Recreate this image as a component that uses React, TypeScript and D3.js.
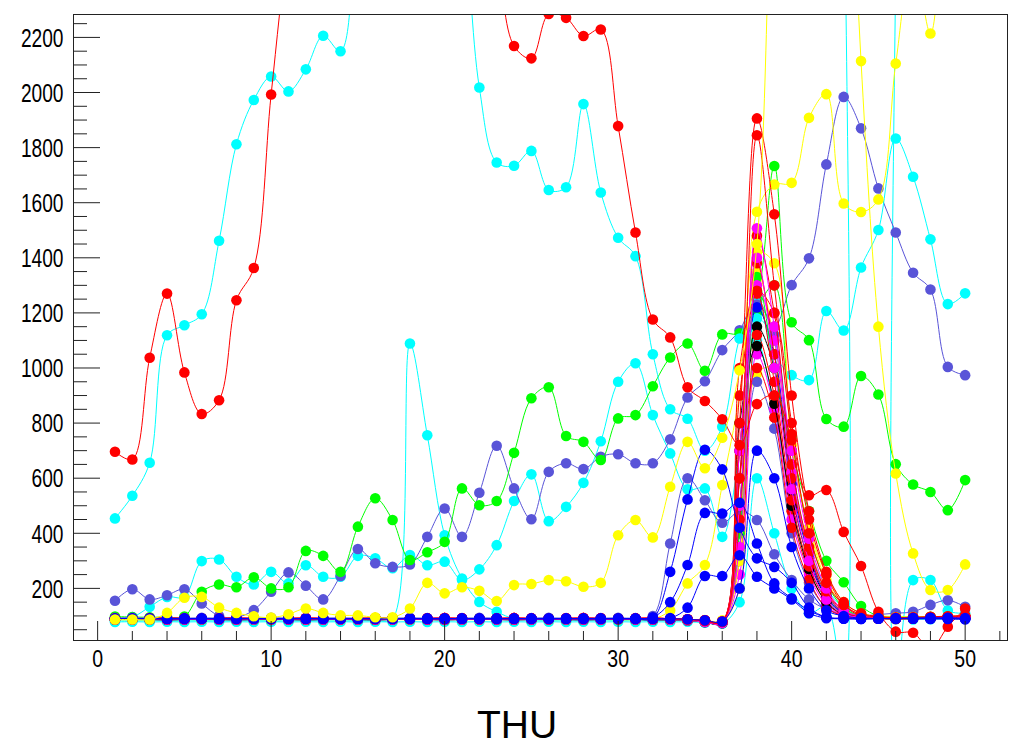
import React from 'react';
import * as d3 from 'd3';

const CYAN = '#00ffff';
const RED = '#ff0000';
const GREEN = '#00ff00';
const YELLOW = '#ffff00';
const BLUE = '#0000ff';
const MAG = '#ff00ff';
const BLACK = '#000000';
const SLATE = '#5954d8';

const xs = [1,2,3,4,5,6,7,8,9,10,11,12,13,14,15,16,17,18,19,20,21,22,23,24,25,26,27,28,29,30,31,32,33,34,35,36,37,38,39,40,41,42,43,44,45,46,47,48,49,50];

const xMajor = [0, 10, 20, 30, 40, 50];
const yMajor = [200, 400, 600, 800, 1000, 1200, 1400, 1600, 1800, 2000, 2200];
const title = 'THU';

const cyanV = [78,79,78,79,78,79,78,79,78,79, 78,79,78,79,78,79,78,79,78,79, 78,79,78,79,78,79,78,79,78,79, 78,79,78,79,75,72,150,600,400,200, 110,133,-150,9000,9000,-150,230,230,120,110];
const cyanC = [82,82,83,82,82,83,82,82,83,82, 82,83,82,82,83,84,90,1089,756,393, 236,151,115,90,85,84,85,84,85,84, 85,84,85,84,80,78,350,1100,850,500, 280,160,110,95,90,88,87,88,90,92];
const cyanD = [93,96,133,169,169,299,305,242,214,260, 218,284,242,242,318,309,273,321,284,297, 230,269,357,517,614,444,496,583,734,950, 1017,829,690,560,563,387,700,1240,1000,600, 350,200,130,100,95,92,90,92,95,98];
const slateD = [155,197,160,175,197,145,100,95,121,188, 258,210,160,245,343,291,278,287,387,490, 387,547,718,563,451,623,654,633,678,687, 654,654,741,893,952,1065,1137,1250,1150,1301, 1398,1739,1984,1870,1652,1492,1346,1285,1004,974];
const greenC = [98,96,95,96,98,188,214,204,240,200, 204,336,318,260,424,527,448,303,331,369, 563,502,517,692,890,930,753,732,666,817, 829,934,1038,1089,990,1122,1126,1250,1733,1166, 1101,815,787,971,904,651,577,550,484,593];
const cyanB = [454,536,656,1119,1155,1195,1462,1812,1973,2058, 2004,2084,2206,2150,2700,3000,3200,3300,3200,3000, 2700,2018,1746,1734,1788,1646,1656,1958,1637,1473, 1406,1050,850,816,700,787,1107,1240,1050,974, 956,1207,1136,1365,1501,1833,1694,1467,1232,1271];
const yellowE = [86,86,87,86,87,86,87,86,87,86, 87,86,87,86,87,86,87,86,87,86, 87,86,87,86,87,86,87,86,87,86, 86,87,86,87,85,84,500,1567,1666,1672, 1908,1994,1597,1566,1612,2105,2500,2214,2800,3000];
const yellowH = [89,89,88,89,89,88,89,89,88,89, 89,88,89,89,88,89,89,88,89,89, 88,89,89,88,89,89,88,89,89,88, 89,89,120,218,285,575,900,1350,1100,700, 420,250,150,110,100,98,96,95,96,97];
const slateS2 = [92,93,92,91,92,93,92,91,92,93, 92,91,92,93,92,91,92,93,92,91, 92,93,92,91,92,93,92,91,92,93, 92,100,363,600,520,438,480,448,324,230, 160,125,105,100,105,110,115,140,157,133];
const redA = [696,668,1037,1270,984,833,883,1246,1363,1993, 2550,2900,3100,3200,3300,3350,3300,3200,3100,3000, 2900,2750,2500,2169,2124,2285,2271,2205,2229,1878, 1492,1176,1111,930,880,814,720,869,900,738, 538,557,405,281,115,43,39,-20,61,127];
const blue1 = [90,90,91,90,90,91,90,90,91,90, 90,91,90,90,91,90,90,91,90,90, 91,90,90,91,90,90,91,90,90,91, 90,92,260,523,703,632,420,309,278,220, 130,95,90,89,90,91,90,89,90,88];
const blue2 = [91,91,90,91,91,90,91,91,90,91, 91,90,91,91,90,91,91,90,91,91, 90,91,91,90,91,91,90,91,91,90, 91,95,150,285,474,472,511,363,218,164, 120,95,92,90,91,90,92,93,92,90];
const blue3 = [89,90,90,89,90,90,89,90,90,89, 90,90,89,90,90,89,90,90,89,90, 90,89,90,90,89,90,90,89,90,90, 89,90,92,130,245,245,320,242,200,160, 110,92,90,89,90,91,92,90,89,88];
const blueF = [90,89,90,90,89,90,90,89,90,90, 89,90,90,89,90,90,89,90,90,89, 90,90,89,90,90,89,90,90,89,90, 90,89,90,88,84,80,200,700,600,350, 200,120,100,92,91,90,91,92,93,92];
const yellowG = [87,87,87,111,166,169,130,111,99,94, 106,127,111,102,102,95,95,127,220,182, 204,191,154,212,216,230,226,206,220,393, 448,385,569,732,636,747,992,1450,3200,4500, 5000,4600,3500,2114,1150,617,327,194,194,287];

// spike bundle
const sp01 = [89,90,89,88,89,90,89,88,89,90, 89,88,89,90,89,88,89,90,89,88, 89,90,89,88,89,90,89,88,89,90, 89,88,89,87,82,78, 600,1845,1300,760,400,220,140, 105,96,92,94,96,98,100];
const sp02 = [91,90,91,92,91,90,91,92,91,90, 91,92,91,90,91,92,91,90,91,92, 91,90,91,92,91,90,91,92,91,90, 91,92,90,88,84,80, 800,1906,1558,900,480,260,150, 110,98,94,95,97,99,102];
const sp03 = [87,88,87,86,87,88,87,86,87,88, 87,86,87,88,87,86,87,88,87,86, 87,88,87,86,87,88,87,86,87,88, 87,86,86,84,78,74, 500,1507,1150,700,380,200,120, 100,95,93,94,95,96,97];
const sp04 = [88,88,89,88,88,89,88,88,89,88, 88,89,88,88,89,88,88,89,88,88, 89,88,88,89,88,88,89,88,88,89, 88,88,89,86,80,76, 450,1480,1200,650,350,190,120, 98,94,92,93,94,95,96];
const sp05 = [89,90,89,88,89,90,89,88,89,90, 89,88,89,90,89,88,89,90,89,88, 89,90,89,88,89,90,89,88,89,90, 89,88,89,87,82,78, 300,1420,1380,720,420,230,140, 105,97,95,96,97,98,99];
const sp06 = [91,90,91,92,91,90,91,92,91,90, 91,92,91,90,91,92,91,90,91,92, 91,90,91,92,91,90,91,92,91,90, 91,92,90,88,84,80, 700,1380,1050,600,330,180,115, 96,92,90,91,92,93,94];
const sp07 = [87,88,87,86,87,88,87,86,87,88, 87,86,87,88,87,86,87,88,87,86, 87,88,87,86,87,88,87,86,87,88, 87,86,86,84,78,74, 400,1330,1000,700,481,300,222, 136,100,95,96,97,98,99];
const sp08 = [88,88,89,88,88,89,88,88,89,88, 88,89,88,88,89,88,88,89,88,88, 89,88,88,89,88,88,89,88,88,89, 88,88,89,86,80,76, 350,1300,1100,620,340,190,110, 95,92,91,92,93,94,95];
const sp09 = [89,90,89,88,89,90,89,88,89,90, 89,88,89,90,89,88,89,90,89,88, 89,90,89,88,89,90,89,88,89,90, 89,88,89,87,82,78, 500,1150,1000,550,300,170,110, 96,93,92,93,94,95,96];
const sp10 = [91,90,91,92,91,90,91,92,91,90, 91,92,91,90,91,92,91,90,91,92, 91,90,91,92,91,90,91,92,91,90, 91,92,90,88,84,80, 900,1270,950,520,280,160,105, 94,91,90,91,92,93,94];
const sp11 = [87,88,87,86,87,88,87,86,87,88, 87,86,87,88,87,86,87,88,87,86, 87,88,87,86,87,88,87,86,87,88, 87,86,86,84,78,74, 600,1220,1050,580,320,170,110, 95,92,91,92,93,94,95];
const sp12 = [88,88,89,88,88,89,88,88,89,88, 88,89,88,88,89,88,88,89,88,88, 89,88,88,89,88,88,89,88,88,89, 88,88,89,86,80,76, 500,1180,1100,650,340,180,115, 97,93,92,93,94,95,96];
const sp13 = [89,90,89,88,89,90,89,88,89,90, 89,88,89,90,89,88,89,90,89,88, 89,90,89,88,89,90,89,88,89,90, 89,88,89,87,82,78, 700,1230,1120,600,330,170,110, 96,93,92,93,94,95,96];
const sp14 = [91,90,91,92,91,90,91,92,91,90, 91,92,91,90,91,92,91,90,91,92, 91,90,91,92,91,90,91,92,91,90, 91,92,90,88,84,80, 300,1120,900,480,260,150,100, 93,90,89,90,91,92,93];
const sp15 = [87,88,87,86,87,88,87,86,87,88, 87,86,87,88,87,86,87,88,87,86, 87,88,87,86,87,88,87,86,87,88, 87,86,86,84,78,74, 800,1080,870,500,270,150,105, 95,92,91,92,93,94,95];
const sp16 = [88,88,89,88,88,89,88,88,89,88, 88,89,88,88,89,88,88,89,88,88, 89,88,88,89,88,88,89,88,88,89, 88,88,89,86,80,76, 250,1050,850,450,250,140,100, 94,91,90,91,92,93,94];
const sp17 = [89,90,89,88,89,90,89,88,89,90, 89,88,89,90,89,88,89,90,89,88, 89,90,89,88,89,90,89,88,89,90, 89,88,89,87,82,78, 600,1000,820,420,230,130,100, 93,90,89,90,91,92,93];
const sp18 = [91,90,91,92,91,90,91,92,91,90, 91,92,91,90,91,92,91,90,91,92, 91,90,91,92,91,90,91,92,91,90, 91,92,90,88,84,80, 200,980,1000,600,350,190,120, 100,96,94,95,96,97,98];
const sp19 = [87,88,87,86,87,88,87,86,87,88, 87,86,87,88,87,86,87,88,87,86, 87,88,87,86,87,88,87,86,87,88, 87,86,86,84,78,74, 400,950,780,400,220,130,100, 94,91,90,91,92,93,94];
const sp20 = [88,88,89,88,88,89,88,88,89,88, 88,89,88,88,89,88,88,89,88,88, 89,88,88,89,88,88,89,88,88,89, 88,88,89,86,80,76, 1000,1280,1200,800,450,250,140, 100,95,93,94,95,96,97];
const sp21 = [89,90,89,88,89,90,89,88,89,90, 89,88,89,90,89,88,89,90,89,88, 89,90,89,88,89,90,89,88,89,90, 89,88,89,87,82,78, 350,1200,1300,750,400,220,130, 98,94,92,93,94,95,96];
const sp22 = [91,90,91,92,91,90,91,92,91,90, 91,92,91,90,91,92,91,90,91,92, 91,90,91,92,91,90,91,92,91,90, 91,92,90,88,84,80, 700,1400,1000,560,300,160,105, 95,92,91,92,93,94,95];

const seriesList = [
  { color: CYAN, values: cyanV },
  { color: CYAN, values: cyanC },
  { color: CYAN, values: cyanD },
  { color: SLATE, values: slateD },
  { color: GREEN, values: greenC },
  { color: CYAN, values: cyanB },
  { color: YELLOW, values: yellowE },
  { color: YELLOW, values: yellowH },
  { color: SLATE, values: slateS2 },
  { color: YELLOW, values: sp18 },
  { color: SLATE, values: sp19 },
  { color: GREEN, values: sp21 },
  { color: CYAN, values: sp12 },
  { color: BLACK, values: sp09 },
  { color: RED, values: sp14 },
  { color: SLATE, values: sp13 },
  { color: MAG, values: sp16 },
  { color: BLUE, values: sp11 },
  { color: RED, values: sp17 },
  { color: BLACK, values: sp15 },
  { color: GREEN, values: sp07 },
  { color: RED, values: sp10 },
  { color: YELLOW, values: sp05 },
  { color: MAG, values: sp08 },
  { color: RED, values: sp06 },
  { color: RED, values: sp20 },
  { color: MAG, values: sp22 },
  { color: RED, values: sp04 },
  { color: MAG, values: sp03 },
  { color: RED, values: sp01 },
  { color: RED, values: sp02 },
  { color: RED, values: redA },
  { color: BLUE, values: blueF },
  { color: BLUE, values: blue3 },
  { color: BLUE, values: blue2 },
  { color: BLUE, values: blue1 },
  { color: YELLOW, values: yellowG },
];

export default function App() {
  const left = 73, right = 1008, top = 14, bottom = 641;
  const x = d3.scaleLinear().domain([-1.42, 52.47]).range([left, right]);
  const y = d3.scaleLinear().domain([9, 2285]).range([bottom, top]);
  const line = d3
    .line<number>()
    .x((_, i) => x(xs[i]))
    .y((d) => y(d))
    .curve(d3.curveCatmullRom.alpha(0.5));
  const xMinor = d3.range(0, 53, 2).filter((v) => v % 10 !== 0);
  const yMinor = d3.range(50, 2285, 50).filter((v) => v % 200 !== 0);
  const font = "'Liberation Sans', Arial, Helvetica, sans-serif";
  const axisColor = '#222';

  return (
    <svg
      width={1011}
      height={745}
      style={{ position: 'absolute', left: 0, top: 0, background: '#fff' }}
    >
      <defs>
        <clipPath id="plotClip">
          <rect x={left} y={top} width={right - left} height={bottom - top} />
        </clipPath>
      </defs>
      <rect x={0} y={0} width={1011} height={745} fill="#fff" />
      <g clipPath="url(#plotClip)">
        {seriesList.map((s, k) => (
          <g key={k}>
            <path d={line(s.values) || ''} fill="none" stroke={s.color} strokeWidth={1} />
            {s.values.map((v, i) => (
              <circle key={i} cx={x(xs[i])} cy={y(v)} r={5.3} fill={s.color} />
            ))}
          </g>
        ))}
      </g>
      <rect
        x={left + 0.5}
        y={top + 0.5}
        width={right - left - 1}
        height={bottom - top - 1}
        fill="none"
        stroke={axisColor}
        strokeWidth={1}
      />
      {xMajor.map((v) => (
        <line key={'xM' + v} x1={x(v)} x2={x(v)} y1={bottom} y2={bottom - 20} stroke={axisColor} strokeWidth={1} />
      ))}
      {xMinor.map((v) => (
        <line key={'xm' + v} x1={x(v)} x2={x(v)} y1={bottom} y2={bottom - 10} stroke={axisColor} strokeWidth={1} />
      ))}
      {yMajor.map((v) => (
        <line key={'yM' + v} x1={left} x2={left + 27} y1={y(v)} y2={y(v)} stroke={axisColor} strokeWidth={1} />
      ))}
      {yMinor.map((v) => (
        <line key={'ym' + v} x1={left} x2={left + 14} y1={y(v)} y2={y(v)} stroke={axisColor} strokeWidth={1} />
      ))}
      {yMajor.map((v) => {
        const s = String(v);
        return (
          <text
            key={'yl' + v}
            x={63.5}
            y={y(v) + 9.3}
            textAnchor="end"
            fontFamily={font}
            fontSize={25}
            textLength={s.length * 10.65}
            lengthAdjust="spacingAndGlyphs"
            fill="#000"
          >
            {s}
          </text>
        );
      })}
      {xMajor.map((v) => {
        const s = String(v);
        return (
          <text
            key={'xl' + v}
            x={x(v)}
            y={667.3}
            textAnchor="middle"
            fontFamily={font}
            fontSize={24}
            textLength={s.length * 10.85}
            lengthAdjust="spacingAndGlyphs"
            fill="#000"
          >
            {s}
          </text>
        );
      })}
      <text x={517} y={738} textAnchor="middle" fontFamily={font} fontSize={39} fill="#000">
        {title}
      </text>
    </svg>
  );
}
